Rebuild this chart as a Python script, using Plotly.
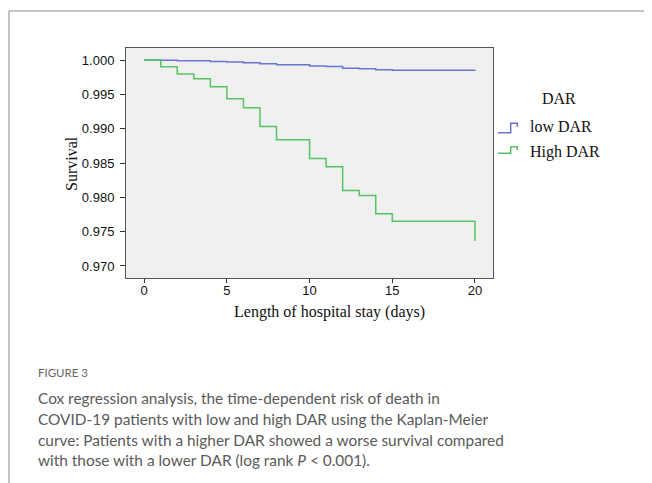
import plotly.graph_objects as go

# Data
low_t = [0, 1, 2, 4, 5, 6, 7, 8, 10, 11, 12, 13, 14, 15, 20]
low_s = [1.0, 0.99995, 0.9999, 0.9998, 0.99971, 0.9996, 0.99946, 0.99932,
         0.99912, 0.99907, 0.99879, 0.99873, 0.99859, 0.9985, 0.99845]
high_t = [0, 1, 2, 3, 4, 5, 6, 7, 8, 10, 11, 12, 13, 14, 15, 20]
high_s = [1.0, 0.99903, 0.99796, 0.99728, 0.99611, 0.99436, 0.99305, 0.99033,
          0.98838, 0.98566, 0.98444, 0.98099, 0.98026, 0.97759, 0.97652, 0.97365]
x_ticks = [0, 5, 10, 15, 20]
y_ticks = [0.970, 0.975, 0.980, 0.985, 0.990, 0.995, 1.000]
series_names = ["low DAR", "High DAR"]
legend_title = "DAR"
x_title = "Length of hospital stay (days)"
y_title = "Survival"
caption_head = "FIGURE 3"
caption_lines = [
    "Cox regression analysis, the time-dependent risk of death in",
    "COVID-19 patients with low and high DAR using the Kaplan-Meier",
    "curve: Patients with a higher DAR showed a worse survival compared",
    "with those with a lower DAR (log rank <i>P</i> &lt; 0.001).",
]

OFF = 8  # page body margin
W, H = 652 - OFF, 483 - OFF
L, R, T, B = 126 - OFF, 493 - OFF, 48 - OFF, 278 - OFF
BLUE = "#6676cc"
GREEN = "#55c463"


def px(x):
    return (x - OFF - L) / (R - L)


def py(y):
    return (B - (y - OFF)) / (B - T)


fig = go.Figure()
fig.add_trace(go.Scatter(x=low_t, y=low_s, mode="lines", line_shape="hv",
                         line=dict(color=BLUE, width=1.5), name=series_names[0]))
fig.add_trace(go.Scatter(x=high_t, y=high_s, mode="lines", line_shape="hv",
                         line=dict(color=GREEN, width=1.5), name=series_names[1]))

axis_common = dict(showgrid=False, zeroline=False, showline=True, mirror=True,
                   linecolor="#555555", linewidth=1, ticks="outside",
                   tickcolor="#333333",
                   tickfont=dict(family="Liberation Sans", size=13, color="#111111"))

fig.update_xaxes(range=[-1.1, 21.09], tickvals=x_ticks, ticklen=4, ticklabelstandoff=-4,
                 **axis_common)
fig.update_yaxes(range=[0.96825, 1.00175], tickvals=y_ticks, tickformat=".3f",
                 ticklen=5, ticklabelstandoff=3, **axis_common)

shapes = []
# outer frame (top and left)
shapes.append(dict(type="line", xref="paper", yref="paper", x0=px(9), y0=py(11), x1=px(652), y1=py(11),
                   line=dict(color="#b0b0b0", width=1.5)))
shapes.append(dict(type="line", xref="paper", yref="paper", x0=px(9), y0=py(11), x1=px(9), y1=py(483),
                   line=dict(color="#b0b0b0", width=1.5)))


def glyph(y_low, y_high, color):
    pts = [(498, y_low), (510.7, y_low), (510.7, y_high), (517.3, y_high), (517.3, y_high + 3.5)]
    path = "M " + " L ".join(f"{px(a):.5f},{py(b):.5f}" for a, b in pts)
    return dict(type="path", xref="paper", yref="paper", path=path,
                line=dict(color=color, width=1.5))


shapes.append(glyph(132.7, 123.3, BLUE))
shapes.append(glyph(153.3, 146.7, GREEN))

annotations = []
serif = dict(family="Liberation Serif", size=16, color="#111111")
annotations.append(dict(text=y_title, x=px(71), y=py(164), xref="paper", yref="paper",
                        showarrow=False, xanchor="center", yanchor="middle", textangle=-90, font=serif))
annotations.append(dict(text=x_title, x=px(329), y=py(312), xref="paper", yref="paper",
                        showarrow=False, xanchor="center", yanchor="middle", font=serif))
annotations.append(dict(text=legend_title, x=px(558.5), y=py(98), xref="paper", yref="paper",
                        showarrow=False, xanchor="center", yanchor="middle", font=serif))
annotations.append(dict(text=series_names[0], x=px(528), y=py(126), xref="paper", yref="paper",
                        showarrow=False, xanchor="left", yanchor="middle", font=serif))
annotations.append(dict(text=series_names[1], x=px(528), y=py(152), xref="paper", yref="paper",
                        showarrow=False, xanchor="left", yanchor="middle", font=serif))

annotations.append(dict(text=caption_head, x=px(36), y=py(372), xref="paper", yref="paper",
                        showarrow=False, xanchor="left", yanchor="middle",
                        font=dict(family="Lato", size=11.5, color="#666666")))
cap_y = [398, 419, 440, 460]
for line, yy in zip(caption_lines, cap_y):
    annotations.append(dict(text=line, x=px(36), y=py(yy), xref="paper", yref="paper",
                            showarrow=False, xanchor="left", yanchor="middle",
                            font=dict(family="Lato", size=15.4, color="#5a5a5a")))

fig.update_layout(width=W, height=H, margin=dict(l=L, r=W - R, t=T, b=H - B, autoexpand=False),
                  plot_bgcolor="#f0f0f0", paper_bgcolor="white", showlegend=False,
                  shapes=shapes, annotations=annotations)

fig.write_html("out.html")
